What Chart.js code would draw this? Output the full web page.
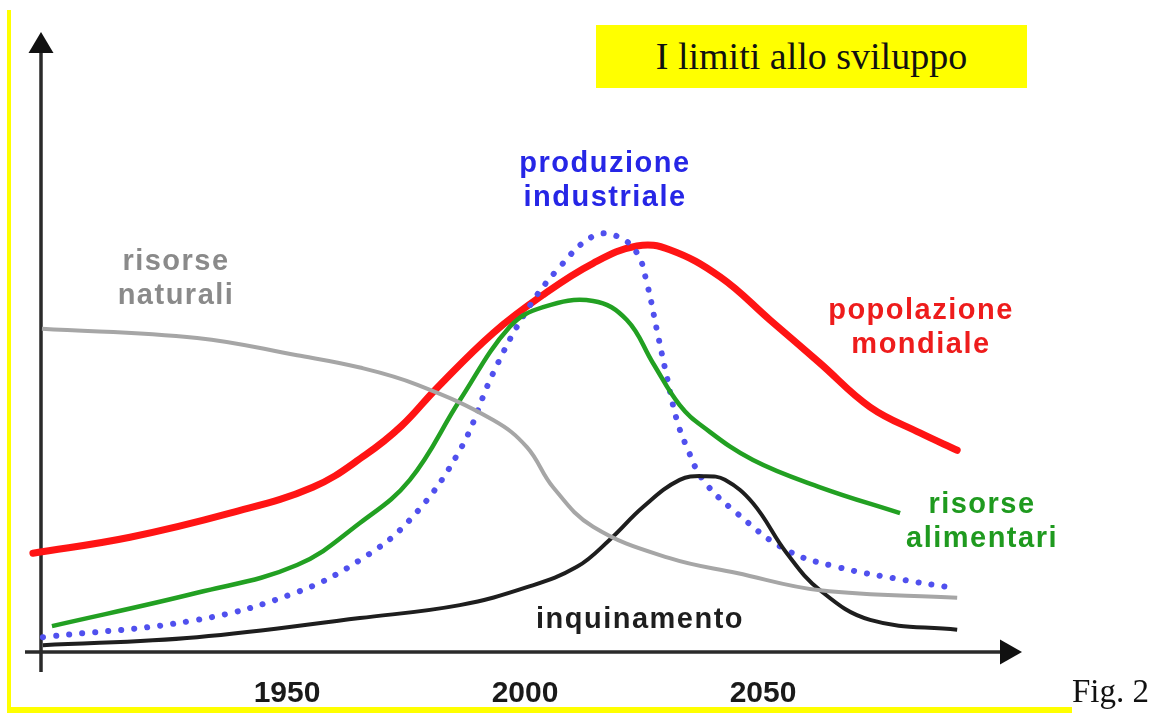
<!DOCTYPE html>
<html>
<head>
<meta charset="utf-8">
<script src="https://cdn.jsdelivr.net/npm/chart.js@4/dist/chart.umd.min.js"></script>
<style>
  html, body { margin: 0; padding: 0; background: #ffffff; }
  #wrap { position: relative; width: 1157px; height: 713px; overflow: hidden; }
  #c { position: absolute; left: 0; top: 0; }
  .yl { position: absolute; background: #ffff00; }
  #title { position: absolute; left: 596px; top: 25px; width: 431px; height: 63px; background: #ffff00;
           font-family: 'Liberation Serif', 'Times New Roman', serif; font-size: 38px; color: #111;
           display: flex; align-items: center; justify-content: center; line-height: 1; padding-bottom: 2px; box-sizing: border-box; }
  #fig { position: absolute; left: 1072px; top: 675px; font-family: 'Liberation Serif', 'Times New Roman', serif;
         font-size: 33px; color: #111; line-height: 1; }
</style>
</head>
<body>
<div id="wrap">
  <canvas id="c" width="1157" height="713"></canvas>
  <div class="yl" style="left:7px; top:10px; width:4px; height:703px;"></div>
  <div class="yl" style="left:7px; top:707px; width:1065px; height:6px;"></div>
  <div id="title">I limiti allo sviluppo</div>
  <div id="fig">Fig. 2</div>
</div>
<script>
// ---- data (years on x, relative level 0-100 on y) ----
const tickYears = [1950, 2000, 2050];
const tickLabels = ['1950', '2000', '2050'];

const popYears  = [1896.6, 1917.0, 1938.0, 1955.4, 1966.4, 1974.0, 1981.5, 1993.3, 2003.8, 2014.3, 2023.5, 2030.4, 2041.0, 2051.5, 2062.0, 2072.5, 2083.0, 2090.8];
const popValues = [16.0, 18.6, 22.5, 26.7, 31.9, 36.6, 42.8, 51.7, 57.9, 63.0, 65.8, 65.2, 60.8, 53.8, 46.8, 39.7, 35.5, 32.7];

const foodYears  = [1900.6, 1931.1, 1952.1, 1965.3, 1975.8, 1986.3, 1996.8, 2003.8, 2014.3, 2021.4, 2026.9, 2032.5, 2037.4, 2047.9, 2062.0, 2078.8];
const foodValues = [4.2, 9.6, 14.1, 20.9, 27.9, 40.8, 52.7, 55.9, 56.9, 53.8, 46.8, 40.0, 36.5, 31.1, 26.7, 22.5];

const indYears  = [1898.7, 1931.1, 1952.1, 1965.3, 1975.8, 1986.3, 1993.3, 2000.4, 2007.3, 2014.3, 2019.3, 2023.5, 2025.6, 2027.7, 2029.8, 2031.9, 2034.0, 2037.4, 2044.5, 2055.0, 2065.5, 2079.4, 2089.9];
const indValues = [2.4, 5.2, 9.7, 14.9, 21.4, 32.7, 45.2, 55.4, 62.4, 67.4, 67.4, 64.7, 59.8, 52.2, 44.6, 37.6, 33.2, 27.9, 22.5, 16.5, 13.8, 11.7, 10.4];

const natYears  = [1898.5, 1931.1, 1952.1, 1965.3, 1977.4, 1993.3, 2000.4, 2005.9, 2014.3, 2030.4, 2044.5, 2062.0, 2090.8];
const natValues = [52.4, 50.9, 48.1, 46.1, 43.3, 37.6, 33.2, 26.7, 20.3, 15.2, 12.8, 10.0, 8.8];

const polYears  = [1898.7, 1931.1, 1965.3, 1986.3, 2000.4, 2010.9, 2017.8, 2024.8, 2032.5, 2037.8, 2042.0, 2047.9, 2055.0, 2062.0, 2072.5, 2090.8];
const polValues = [1.1, 2.4, 5.5, 7.6, 10.5, 13.8, 18.2, 23.5, 27.9, 28.5, 27.9, 24.1, 16.0, 10.0, 5.2, 3.6];

const pts = (xs, ys) => xs.map((x, i) => ({ x: x, y: ys[i] }));

// ---- decoration plugin: axes with arrows and curve labels ----
const deco = {
  id: 'deco',
  beforeDatasetsDraw(chart) {
    const ctx = chart.ctx;
    const a = chart.chartArea;
    const x0 = a.left, y0 = a.bottom;
    ctx.save();
    ctx.strokeStyle = '#2a2a2a';
    ctx.fillStyle = '#111';
    ctx.lineWidth = 3.5;
    // y axis
    ctx.beginPath();
    ctx.moveTo(x0, y0 + 20);
    ctx.lineTo(x0, a.top + 16);
    ctx.stroke();
    ctx.beginPath();
    ctx.moveTo(x0, a.top - 3);
    ctx.lineTo(x0 - 12.5, a.top + 18);
    ctx.lineTo(x0 + 12.5, a.top + 18);
    ctx.closePath();
    ctx.fill();
    // x axis
    ctx.beginPath();
    ctx.moveTo(x0 - 16, y0);
    ctx.lineTo(a.right - 18, y0);
    ctx.stroke();
    ctx.beginPath();
    ctx.moveTo(a.right + 2, y0);
    ctx.lineTo(a.right - 20, y0 - 12.5);
    ctx.lineTo(a.right - 20, y0 + 12.5);
    ctx.closePath();
    ctx.fill();
    ctx.restore();
  },
  afterDatasetsDraw(chart) {
    const ctx = chart.ctx;
    const labels = [
      { lines: ['risorse', 'naturali'], x: 176, y: 270, color: '#8a8a8a' },
      { lines: ['produzione', 'industriale'], x: 605, y: 172, color: '#2626e6' },
      { lines: ['popolazione', 'mondiale'], x: 921, y: 319, color: '#ee1c1c' },
      { lines: ['risorse', 'alimentari'], x: 982, y: 513, color: '#1f9a1f' },
      { lines: ['inquinamento'], x: 640, y: 628, color: '#1e1e1e' }
    ];
    ctx.save();
    ctx.font = 'bold 29px "Liberation Sans", Arial, sans-serif';
    ctx.textAlign = 'center';
    ctx.textBaseline = 'alphabetic';
    try { ctx.letterSpacing = '1.5px'; } catch (e) {}
    labels.forEach(l => {
      ctx.fillStyle = l.color;
      l.lines.forEach((t, i) => ctx.fillText(t, l.x, l.y + i * 34));
    });
    ctx.restore();
  }
};

new Chart(document.getElementById('c'), {
  type: 'line',
  data: {
    datasets: [
      { label: 'risorse naturali', data: pts(natYears, natValues), borderColor: '#a6a6a6', borderWidth: 4 },
      { label: 'inquinamento', data: pts(polYears, polValues), borderColor: '#1e1e1e', borderWidth: 4 },
      { label: 'risorse alimentari', data: pts(foodYears, foodValues), borderColor: '#22a022', borderWidth: 4.5 },
      { label: 'produzione industriale', data: pts(indYears, indValues), borderColor: '#5050ee', borderWidth: 6,
        borderDash: [0.1, 13], borderCapStyle: 'round' },
      { label: 'popolazione mondiale', data: pts(popYears, popValues), borderColor: '#ff1414', borderWidth: 7,
        borderCapStyle: 'round' }
    ]
  },
  options: {
    responsive: false,
    animation: false,
    events: [],
    layout: { padding: { left: 41, right: 137, top: 35, bottom: 3 } },
    elements: {
      point: { radius: 0 },
      line: { tension: 0.4, fill: false }
    },
    datasets: { line: { clip: false } },
    plugins: { legend: { display: false }, tooltip: { enabled: false } },
    scales: {
      x: {
        type: 'linear', min: 1898.3, max: 2104,
        grid: { display: false, drawTicks: false }, border: { display: false },
        afterBuildTicks: (s) => { s.ticks = tickYears.map(v => ({ value: v })); },
        afterFit: (s) => { s.height = 58; },
        ticks: {
          autoSkip: false, maxRotation: 0, padding: 24, color: '#1a1a1a',
          font: { family: '"Liberation Sans", Arial, sans-serif', weight: 'bold', size: 30 },
          callback: (v) => { const i = tickYears.indexOf(v); return i >= 0 ? tickLabels[i] : ''; }
        }
      },
      y: { display: false, min: 0, max: 100 }
    }
  },
  plugins: [deco]
});
</script>
</body>
</html>
